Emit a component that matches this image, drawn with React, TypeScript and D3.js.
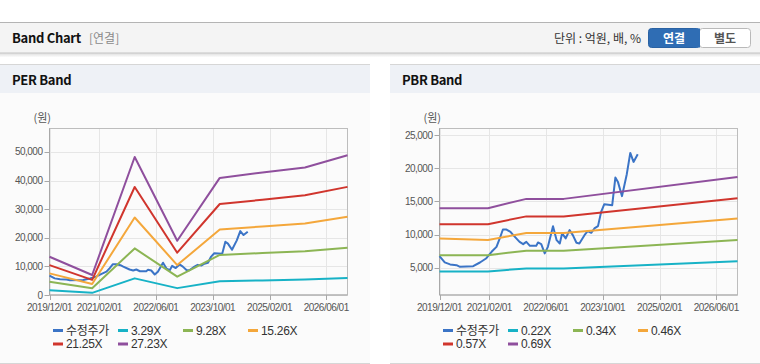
import { useEffect, useRef } from "react";
import * as d3 from "d3";

// 수정주가 (shared by both panels)
const priceDates = [
  "2019-12-01", "2020-01-15", "2020-03-01", "2020-04-25", "2020-05-25", "2020-09-15",
  "2020-11-12", "2021-01-03", "2021-02-20", "2021-04-03", "2021-05-01", "2021-05-28",
  "2021-06-28", "2021-08-01", "2021-08-25", "2021-10-18", "2021-11-18", "2021-12-15",
  "2022-01-15", "2022-03-10", "2022-03-25", "2022-04-22", "2022-05-22", "2022-06-18",
  "2022-08-01", "2022-09-01", "2022-09-28", "2022-10-18", "2022-11-18", "2022-12-21",
  "2023-01-18", "2023-02-18", "2023-03-15", "2023-04-28", "2023-05-25", "2023-06-25",
  "2023-07-22", "2023-08-22", "2023-09-18", "2023-10-15", "2023-12-22", "2024-01-18",
  "2024-02-09", "2024-03-15", "2024-04-25", "2024-05-25", "2024-06-22", "2024-07-28",
];
const priceValues = [
  6760, 5810, 5510, 5400, 5150, 5250,
  5800, 6400, 7410, 8160, 9420, 10770,
  10770, 10420, 9920, 8910, 8570, 8910,
  8310, 8310, 8820, 8570, 7170, 8160,
  11280, 9170, 8670, 10180, 9430, 10680,
  9920, 8770, 8670, 9920, 10530, 10270,
  10930, 11280, 13430, 14590, 14440, 18610,
  17950, 15800, 19110, 22320, 20960, 22120,
];

// PER band
const perDates = [
  "2019-12-01", "2020-12-01", "2021-12-01", "2022-12-01",
  "2023-12-01", "2024-12-01", "2025-12-01", "2026-12-01",
];
const perLabels = ["3.29X", "9.28X", "15.26X", "21.25X", "27.23X"];
const per329 = [1700, 750, 5820, 2400, 4800, 5100, 5420, 5980];
const per928 = [4600, 2330, 16290, 6400, 14000, 14650, 15300, 16550];
const per1526 = [7550, 3850, 27100, 10450, 22920, 23950, 25000, 27330];
const per2125 = [10450, 5300, 37750, 14780, 31800, 33300, 34850, 37800];
const per2723 = [13360, 6980, 48250, 18950, 40930, 42800, 44560, 48850];
const perYTicks = [0, 10000, 20000, 30000, 40000, 50000];

// PBR band
const pbrDates = ["2019-12-01", "2021-01-20", "2021-12-15", "2022-11-01", "2026-12-01"];
const pbrLabels = ["0.22X", "0.34X", "0.46X", "0.57X", "0.69X"];
const pbr022 = [4460, 4460, 4900, 4900, 6000];
const pbr034 = [6900, 6900, 7580, 7580, 9200];
const pbr046 = [9400, 9200, 10250, 10250, 12450];
const pbr057 = [11580, 11580, 12750, 12750, 15500];
const pbr069 = [13990, 13990, 15390, 15390, 18700];
const pbrYTicks = [5000, 10000, 15000, 20000, 25000];

const xTickDates = ["2019-12-01", "2021-02-01", "2022-06-01", "2023-10-01", "2025-02-01", "2026-06-01"];
const xTickLabels = ["2019/12/01", "2021/02/01", "2022/06/01", "2023/10/01", "2025/02/01", "2026/06/01"];

const priceLabel = "수정주가";
const colors = ["#3b74c6", "#17b2c6", "#8cb554", "#f4a73b", "#d0352d", "#8f4f9d"];

const W = 760;
const H = 364;
const numFont = "'Liberation Sans', Arial, 'Noto Sans CJK KR', sans-serif";
const korFont = "'Noto Sans CJK KR', 'Liberation Sans', sans-serif";

export default function App() {
  const ref = useRef<SVGSVGElement>(null);

  useEffect(() => {
    const svg = d3.select(ref.current);
    svg.selectAll("*").remove();
    const parse = d3.timeParse("%Y-%m-%d");

    /* -------- top header -------- */
    const defs = svg.append("defs");
    const shadow = defs.append("linearGradient").attr("id", "hdrShadow")
      .attr("x1", "0").attr("x2", "0").attr("y1", "0").attr("y2", "1");
    shadow.append("stop").attr("offset", "0%").attr("stop-color", "#000").attr("stop-opacity", 0.12);
    shadow.append("stop").attr("offset", "100%").attr("stop-color", "#000").attr("stop-opacity", 0);

    svg.append("rect").attr("x", 0).attr("y", 0).attr("width", W).attr("height", H).attr("fill", "#fff");
    svg.append("rect").attr("x", 0).attr("y", 22).attr("width", W).attr("height", 31).attr("fill", "#f4f4f4");
    svg.append("line").attr("x1", 0).attr("x2", W).attr("y1", 22.5).attr("y2", 22.5).attr("stroke", "#b4b4b4");
    svg.append("line").attr("x1", 0).attr("x2", W).attr("y1", 53).attr("y2", 53).attr("stroke", "#c4c4c4");
    svg.append("rect").attr("x", 0).attr("y", 53.5).attr("width", W).attr("height", 4).attr("fill", "url(#hdrShadow)");

    svg.append("text").attr("x", 12).attr("y", 43)
      .attr("font-family", korFont).attr("font-weight", "bold").attr("font-size", 13)
      .attr("letter-spacing", -0.3).attr("fill", "#111").text("Band Chart");
    svg.append("text").attr("x", 89).attr("y", 43)
      .attr("font-family", korFont).attr("font-size", 12).attr("fill", "#8a8a8a").text("[연결]");
    svg.append("text").attr("x", 641).attr("y", 43).attr("text-anchor", "end")
      .attr("font-family", korFont).attr("font-size", 12).attr("fill", "#333").text("단위 : 억원, 배, %");

    // buttons
    svg.append("rect").attr("x", 699.5).attr("y", 28.5).attr("width", 51).attr("height", 19).attr("rx", 3)
      .attr("fill", "#fff").attr("stroke", "#b9b9b9");
    svg.append("rect").attr("x", 648.5).attr("y", 28.5).attr("width", 51).attr("height", 19).attr("rx", 3)
      .attr("fill", "#2f6db4").attr("stroke", "#2a62a3");
    svg.append("rect").attr("x", 693).attr("y", 28.5).attr("width", 7).attr("height", 19).attr("fill", "#2f6db4");
    svg.append("text").attr("x", 674).attr("y", 42.5).attr("text-anchor", "middle")
      .attr("font-family", korFont).attr("font-weight", "bold").attr("font-size", 12).attr("fill", "#fff").text("연결");
    svg.append("text").attr("x", 725).attr("y", 42.5).attr("text-anchor", "middle")
      .attr("font-family", korFont).attr("font-weight", "bold").attr("font-size", 12).attr("fill", "#555").text("별도");

    /* -------- panels -------- */
    const drawPanel = (
      ox: number,
      title: string,
      yDomain: [number, number],
      yTicks: number[],
      bandDates: string[],
      bands: number[][],
      bandLabels: string[],
    ) => {
      const g = svg.append("g").attr("transform", `translate(${ox},0)`);
      const pw = 370;
      g.append("rect").attr("x", 0).attr("y", 93).attr("width", pw).attr("height", 270).attr("fill", "#fbfbfb");
      g.append("rect").attr("x", 0).attr("y", 64).attr("width", pw).attr("height", 29).attr("fill", "#eef1f6");
      g.append("line").attr("x1", 0).attr("x2", pw).attr("y1", 64.5).attr("y2", 64.5).attr("stroke", "#d6d6d6");
      g.append("line").attr("x1", 0).attr("x2", pw).attr("y1", 363.5).attr("y2", 363.5).attr("stroke", "#d6d6d6");
      g.append("text").attr("x", 12).attr("y", 85)
        .attr("font-family", korFont).attr("font-weight", "bold").attr("font-size", 13)
        .attr("letter-spacing", -0.3).attr("fill", "#111").text(title);

      const left = 49.5, right = 347.5, top = 128.5, bottom = 295;
      const x = d3.scaleTime()
        .domain([parse("2019-12-01")!, parse("2026-12-01")!])
        .range([left, right]);
      const y = d3.scaleLinear().domain(yDomain).range([bottom, top]);

      // grid
      g.append("g").selectAll("line").data(yTicks).join("line")
        .attr("x1", left).attr("x2", right)
        .attr("y1", (d) => Math.round(y(d)) + 0.5).attr("y2", (d) => Math.round(y(d)) + 0.5)
        .attr("stroke", "#e6e6e6");
      g.append("g").selectAll("line").data(xTickDates).join("line")
        .attr("x1", (d) => Math.round(x(parse(d)!)) + 0.5).attr("x2", (d) => Math.round(x(parse(d)!)) + 0.5)
        .attr("y1", top).attr("y2", bottom)
        .attr("stroke", "#e6e6e6");

      // frame
      g.append("rect").attr("x", left).attr("y", top).attr("width", right - left).attr("height", bottom - top)
        .attr("fill", "none").attr("stroke", "#bdbdbd");
      g.append("line").attr("x1", left).attr("x2", right).attr("y1", bottom).attr("y2", bottom).attr("stroke", "#a8a8a8");
      g.append("line").attr("x1", left).attr("x2", left).attr("y1", top).attr("y2", bottom).attr("stroke", "#a8a8a8");

      // y ticks + labels
      g.append("g").selectAll("line").data(yTicks).join("line")
        .attr("x1", left - 5).attr("x2", left)
        .attr("y1", (d) => Math.round(y(d)) + 0.5).attr("y2", (d) => Math.round(y(d)) + 0.5)
        .attr("stroke", "#a8a8a8");
      g.append("g").selectAll("text").data(yTicks).join("text")
        .attr("x", left - 7).attr("y", (d) => y(d)).attr("dy", "0.35em")
        .attr("text-anchor", "end").attr("font-family", numFont).attr("font-size", 10)
        .attr("letter-spacing", -0.5).attr("fill", "#555")
        .text((d) => d3.format(",")(d));
      g.append("text").attr("x", left - 16).attr("y", 122)
        .attr("font-family", korFont).attr("font-size", 11).attr("fill", "#555").text("(원)");

      // x ticks + labels
      g.append("g").selectAll("line").data(xTickDates).join("line")
        .attr("x1", (d) => Math.round(x(parse(d)!)) + 0.5).attr("x2", (d) => Math.round(x(parse(d)!)) + 0.5)
        .attr("y1", bottom).attr("y2", bottom + 5)
        .attr("stroke", "#a8a8a8");
      g.append("g").selectAll("text").data(xTickDates).join("text")
        .attr("x", (d) => x(parse(d)!)).attr("y", bottom + 15.5)
        .attr("text-anchor", "middle").attr("font-family", numFont).attr("font-size", 10)
        .attr("letter-spacing", -0.5).attr("fill", "#555")
        .text((_, i) => xTickLabels[i]);

      // lines
      const line = d3.line<[Date, number]>().x((d) => x(d[0])).y((d) => y(d[1]));
      const priceSeries = priceDates.map((d, i) => [parse(d)!, priceValues[i]] as [Date, number]);
      const allSeries = [priceSeries, ...bands.map((vals) =>
        bandDates.map((d, i) => [parse(d)!, vals[i]] as [Date, number]))];
      g.append("g").selectAll("path").data(allSeries).join("path")
        .attr("d", (d) => line(d))
        .attr("fill", "none")
        .attr("stroke", (_, i) => colors[i])
        .attr("stroke-width", 2)
        .attr("stroke-linejoin", "round");

      // legend
      const legendItems = [priceLabel, ...bandLabels];
      const lg = g.append("g").selectAll("g").data(legendItems).join("g")
        .attr("transform", (_, i) => `translate(${53 + (i % 4) * 65},${i < 4 ? 330.5 : 344})`);
      lg.append("line").attr("x1", 0).attr("x2", 10).attr("y1", 0).attr("y2", 0)
        .attr("stroke", (_, i) => colors[i]).attr("stroke-width", 3);
      lg.append("text").attr("x", 13).attr("y", 0).attr("dy", "0.36em")
        .attr("font-family", numFont).attr("font-size", 12).attr("letter-spacing", -0.3)
        .attr("fill", "#333").text((d) => d);
    };

    drawPanel(0, "PER Band", [0, 58200], perYTicks, perDates,
      [per329, per928, per1526, per2125, per2723], perLabels);
    drawPanel(390, "PBR Band", [900, 26000], pbrYTicks, pbrDates,
      [pbr022, pbr034, pbr046, pbr057, pbr069], pbrLabels);
  }, []);

  return (
    <svg
      ref={ref}
      width={W}
      height={H}
      style={{ position: "absolute", left: 0, top: 0, display: "block" }}
    />
  );
}
